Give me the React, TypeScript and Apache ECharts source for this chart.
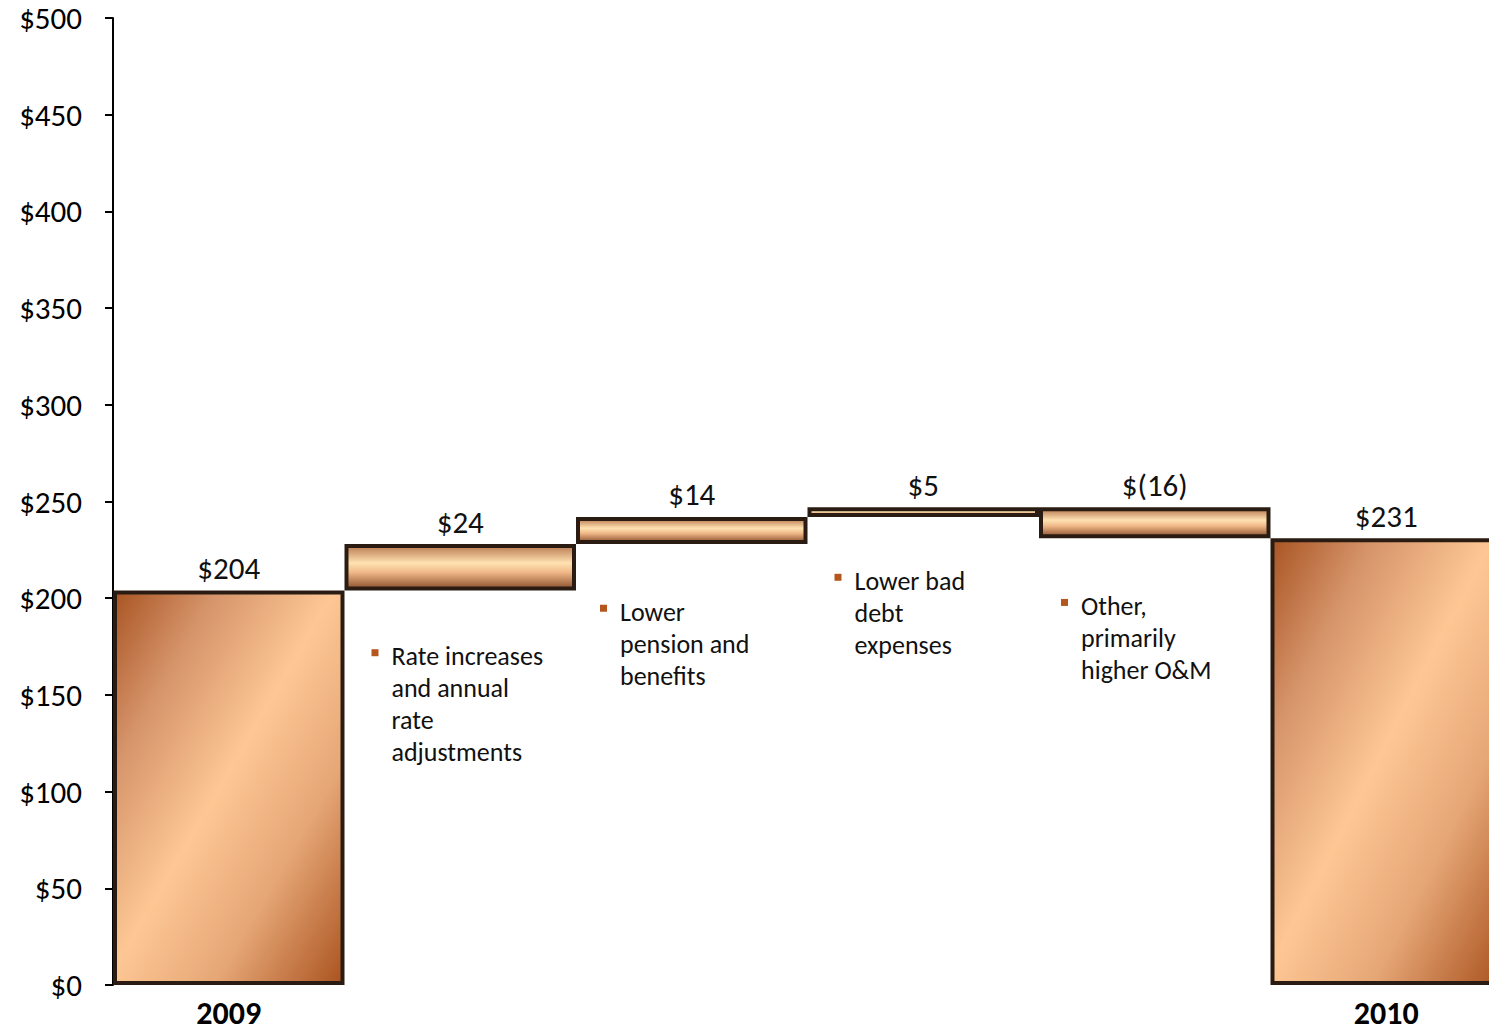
import React, { useEffect, useRef } from "react";
import * as echarts from "echarts";

const categories = ["2009", "", "", "", "", "2010"];
const baseValues = [0, 204, 228, 242, 231, 0];
const barValues = [204, 24, 14, 5, 16, 231];
const valueLabels = ["$204", "$24", "$14", "$5", "$(16)", "$231"];
const yTicks = { min: 0, max: 500, interval: 50 };
const noteLines = [
  ["Rate increases", "and annual", "rate", "adjustments"],
  ["Lower", "pension and", "benefits"],
  ["Lower bad", "debt", "expenses"],
  ["Other,", "primarily", "higher O&M"],
];
const noteCategories = [1, 2, 3, 4];

const FONT = "Carlito, Calibri, Lato, 'Open Sans', sans-serif";

const bigFill = new echarts.graphic.LinearGradient(0, 0, 1, 1, [
  { offset: 0, color: "#a95524" },
  { offset: 0.22, color: "#d6946a" },
  { offset: 0.48, color: "#fdc794" },
  { offset: 0.72, color: "#e6a676" },
  { offset: 1, color: "#aa5420" },
]);
const smallFill = new echarts.graphic.LinearGradient(0, 0, 0, 1, [
  { offset: 0, color: "#b97a52" },
  { offset: 0.4, color: "#ffe2b2" },
  { offset: 0.62, color: "#f0b888" },
  { offset: 1, color: "#8e5230" },
]);

// layout of the annotation text boxes (pixel offsets / y anchor values)
const noteLayout = [
  { dx: 27, yValue: 170 },
  { dx: 24, yValue: 193 },
  { dx: 27, yValue: 209 },
  { dx: 22, yValue: 196 },
];

const CHART_W = 1502;
const CHART_H = 1031;

export default function App() {
  const ref = useRef<HTMLDivElement>(null);
  useEffect(() => {
    const chart = echarts.init(ref.current!, undefined, { renderer: "svg" });
    const gridLeft = 113;
    const gridTop = 18;
    const gridBottom = 46;
    const gridRight = 0;
    const plotW = CHART_W - gridLeft - gridRight;
    const plotH = CHART_H - gridTop - gridBottom;
    const catW = plotW / categories.length;
    const graphics: any[] = [];
    noteLines.forEach((lines, k) => {
      const lay = noteLayout[k];
      const x = gridLeft + catW * noteCategories[k] + lay.dx;
      const y = gridTop + plotH * (1 - lay.yValue / yTicks.max);
      graphics.push({
        type: "rect",
        shape: { x: x, y: y - 7, width: 7, height: 7 },
        style: { fill: "#b5561c" },
      });
      lines.forEach((line, i) => {
        graphics.push({
          type: "text",
          x: x + 20,
          y: y + i * 32,
          style: {
            text: line,
            font: `26px ${FONT}`,
            fill: "#111",
            verticalAlign: "middle",
            align: "left",
          },
        });
      });
    });
    chart.setOption({
      animation: false,
      textStyle: { fontFamily: FONT },
      grid: { left: gridLeft, right: gridRight, top: gridTop, bottom: gridBottom, containLabel: false },
      xAxis: {
        type: "category",
        data: categories,
        axisLine: { show: false },
        axisTick: { show: false },
        axisLabel: {
          color: "#000",
          fontSize: 32,
          fontWeight: "bold",
          fontFamily: FONT,
          margin: 12,
          interval: 0,
        },
      },
      yAxis: {
        type: "value",
        min: yTicks.min,
        max: yTicks.max,
        interval: yTicks.interval,
        splitLine: { show: false },
        axisLine: { show: true, lineStyle: { color: "#000", width: 2 } },
        axisTick: { show: true, length: 8, lineStyle: { color: "#000", width: 2 } },
        axisLabel: {
          color: "#000",
          fontSize: 31,
          fontFamily: FONT,
          margin: 31,
          formatter: (v: number) => "$" + v,
        },
      },
      series: [
        {
          type: "bar",
          stack: "w",
          data: baseValues,
          itemStyle: { color: "transparent" },
          silent: true,
          barCategoryGap: "0%",
        },
        {
          type: "bar",
          stack: "w",
          barCategoryGap: "0%",
          data: barValues.map((v, i) => ({
            value: v,
            itemStyle: {
              color: i === 0 || i === barValues.length - 1 ? bigFill : smallFill,
              borderColor: "#2a1c12",
              borderWidth: 4,
            },
          })),
          label: {
            show: true,
            position: "top",
            distance: 7,
            color: "#111",
            fontSize: 31,
            fontFamily: FONT,
            formatter: (p: any) => valueLabels[p.dataIndex],
          },
        },
      ],
      graphic: graphics,
    });
    return () => chart.dispose();
  }, []);
  return (
    <div
      style={{
        position: "absolute",
        left: 0,
        top: 0,
        width: 1489,
        height: CHART_H,
        overflow: "hidden",
      }}
    >
      <div ref={ref} style={{ width: CHART_W, height: CHART_H }} />
    </div>
  );
}
